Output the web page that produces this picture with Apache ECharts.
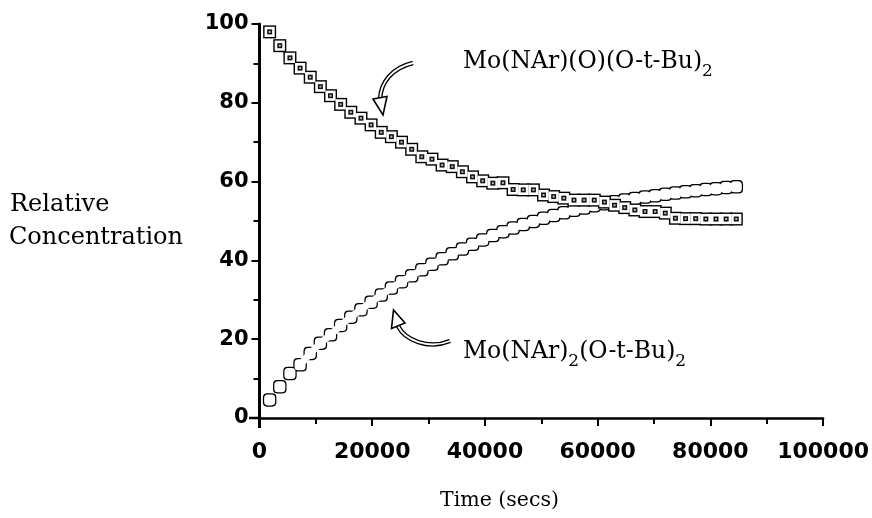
<!DOCTYPE html>
<html>
<head>
<meta charset="utf-8">
<script src="https://cdn.jsdelivr.net/npm/echarts@6/dist/echarts.min.js"></script>
<style>
  html, body { margin: 0; padding: 0; background: #fff; }
  #chart { width: 872px; height: 518px; }
</style>
</head>
<body>
<div id="chart"></div>
<script>
// Sampling times (s)
const times = [1800, 3600, 5400, 7200, 9000, 10800, 12600, 14400, 16200, 18000,
  19800, 21600, 23400, 25200, 27000, 28800, 30600, 32400, 34200, 36000,
  37800, 39600, 41400, 43200, 45000, 46800, 48600, 50400, 52200, 54000,
  55800, 57600, 59400, 61200, 63000, 64800, 66600, 68400, 70200, 72000,
  73800, 75600, 77400, 79200, 81000, 82800, 84600];

// Mo(NAr)(O)(O-t-Bu)2, relative concentration
const oxoImido = [98.0, 94.5, 91.4, 88.8, 86.5, 84.1, 81.8, 79.6, 77.6, 76.1,
  74.4, 72.5, 71.4, 70.0, 68.2, 66.3, 65.7, 64.2, 63.8, 62.5,
  61.2, 60.2, 59.6, 59.7, 58.0, 57.9, 57.9, 56.6, 56.2, 55.8,
  55.3, 55.3, 55.3, 54.8, 54.0, 53.4, 52.8, 52.4, 52.4, 52.0,
  50.7, 50.6, 50.6, 50.5, 50.5, 50.5, 50.5];

// Mo(NAr)2(O-t-Bu)2, relative concentration
const bisImido = [4.6, 7.9, 11.3, 13.5, 16.4, 19.0, 21.1, 23.5, 25.6, 27.5,
  29.4, 31.2, 33.0, 34.6, 36.1, 37.6, 39.0, 40.4, 41.7, 42.9,
  44.1, 45.2, 46.3, 47.3, 48.2, 49.1, 49.9, 50.7, 51.4, 52.1,
  52.7, 53.3, 53.9, 54.4, 54.9, 55.3, 55.7, 56.1, 56.4, 56.8,
  57.1, 57.4, 57.7, 58.0, 58.2, 58.5, 58.7];

// Axis tick labels
const xTicks = [0, 20000, 40000, 60000, 80000, 100000];
const yTicks = [0, 20, 40, 60, 80, 100];

const pairs = (ys) => times.map((t, i) => [t, ys[i]]);
const oxoData = pairs(oxoImido);
const bisData = pairs(bisImido);
// from the 4th sample on the open marks overlap into one continuous ribbon
const bisRibbon = bisData.slice(3);

const serif = '"DejaVu Serif", "Liberation Serif", serif';
const tickFont = '"DejaVu Sans", "Liberation Sans", sans-serif';

// strongly rounded square
const softSquare = 'path://M3.2,0 H6.8 Q10,0 10,3.2 V6.8 Q10,10 6.8,10 H3.2 Q0,10 0,6.8 V3.2 Q0,0 3.2,0 Z';

// one symbol layer; stacking a dark layer under a lighter one gives outlined marks
function layer(data, symbol, size, color, z) {
  return {
    type: 'scatter', data, symbol, symbolSize: size, z,
    itemStyle: { color, opacity: 1 },
    emphasis: { disabled: true },
    silent: true
  };
}

const labelRich = {
  m: { font: '23.5px ' + serif, fill: '#000', lineHeight: 36, verticalAlign: 'middle' },
  s: { font: '17px ' + serif, fill: '#000', lineHeight: 36, verticalAlign: 'bottom' }
};

const chart = echarts.init(document.getElementById('chart'), null, { renderer: 'canvas' });

chart.setOption({
  animation: false,
  backgroundColor: '#ffffff',
  grid: { left: 259.5, right: 47, top: 24, bottom: 100 },
  xAxis: {
    type: 'value',
    min: xTicks[0], max: xTicks[xTicks.length - 1], interval: xTicks[1] - xTicks[0],
    axisLine: { onZero: false, lineStyle: { color: '#000', width: 2.5 } },
    axisTick: { length: 8, lineStyle: { color: '#000', width: 2 } },
    minorTick: { show: true, splitNumber: 2, length: 6, lineStyle: { color: '#000', width: 2 } },
    splitLine: { show: false },
    axisLabel: {
      margin: 23, color: '#000', fontFamily: tickFont, fontWeight: 'bold', fontSize: 22,
      formatter: (v) => String(xTicks.find((t) => t === v) ?? v)
    }
  },
  yAxis: {
    type: 'value',
    min: yTicks[0], max: yTicks[yTicks.length - 1], interval: yTicks[1] - yTicks[0],
    axisLine: { onZero: false, lineStyle: { color: '#000', width: 3 } },
    axisTick: { length: 8, lineStyle: { color: '#000', width: 2 } },
    minorTick: { show: true, splitNumber: 2, length: 6, lineStyle: { color: '#000', width: 2 } },
    splitLine: { show: false },
    axisLabel: {
      margin: 11, color: '#000', fontFamily: tickFont, fontWeight: 'bold', fontSize: 21,
      formatter: (v) => String(yTicks.find((t) => t === v) ?? v)
    }
  },
  series: [
    // bis-imido: open rounded marks merging into a wavy ribbon
    layer(bisData, softSquare, 13.5, '#000', 2),
    {
      type: 'line', data: bisRibbon, z: 3, showSymbol: false, symbol: 'none',
      lineStyle: { color: '#fff', width: 7, opacity: 1 },
      silent: true, emphasis: { disabled: true }
    },
    layer(bisData, softSquare, 11, '#fff', 4),
    // oxo-imido: boxed squares with a dark centre
    layer(oxoData, 'rect', 13, '#000', 5),
    layer(oxoData, 'rect', 10.2, '#fff', 6),
    layer(oxoData, 'rect', 5, '#111', 7),
    layer(oxoData, 'rect', 2, '#bbb', 8)
  ],
  graphic: [
    { type: 'text', left: 10, top: 193, silent: true,
      style: { text: 'Relative', font: '24px ' + serif, fill: '#000' } },
    { type: 'text', left: 9, top: 226, silent: true,
      style: { text: 'Concentration', font: '24px ' + serif, fill: '#000' } },
    { type: 'text', left: 440, top: 490, silent: true,
      style: { text: 'Time (secs)', font: '20.5px ' + serif, fill: '#000' } },
    { type: 'text', left: 463, top: 50, silent: true,
      style: { text: '{m|Mo(NAr)(O)(O-t-Bu)}{s|2}', rich: labelRich } },
    { type: 'text', left: 463, top: 340, silent: true,
      style: { text: '{m|Mo(NAr)}{s|2}{m|(O-t-Bu)}{s|2}', rich: labelRich } },
    // curved pointer to the upper trace
    { type: 'bezierCurve', silent: true, z: 10,
      shape: { x1: 413, y1: 63, cpx1: 392, cpy1: 68, cpx2: 381, cpy2: 82, x2: 380, y2: 99 },
      style: { stroke: '#000', lineWidth: 4.5, fill: null } },
    { type: 'bezierCurve', silent: true, z: 11,
      shape: { x1: 413, y1: 63, cpx1: 392, cpy1: 68, cpx2: 381, cpy2: 82, x2: 380, y2: 99 },
      style: { stroke: '#fff', lineWidth: 1.8, fill: null } },
    { type: 'polygon', silent: true, z: 12,
      shape: { points: [[373, 99], [387, 96.5], [383, 115]] },
      style: { fill: '#fff', stroke: '#000', lineWidth: 1.6 } },
    // curved pointer to the lower trace
    { type: 'bezierCurve', silent: true, z: 10,
      shape: { x1: 450, y1: 341, cpx1: 428, cpy1: 350, cpx2: 405, cpy2: 340, x2: 398, y2: 326 },
      style: { stroke: '#000', lineWidth: 4.5, fill: null } },
    { type: 'bezierCurve', silent: true, z: 11,
      shape: { x1: 450, y1: 341, cpx1: 428, cpy1: 350, cpx2: 405, cpy2: 340, x2: 398, y2: 326 },
      style: { stroke: '#fff', lineWidth: 1.8, fill: null } },
    { type: 'polygon', silent: true, z: 12,
      shape: { points: [[391.5, 328.5], [405, 323], [393.5, 310]] },
      style: { fill: '#fff', stroke: '#000', lineWidth: 1.6 } },
    // axis lines run slightly past the origin
    { type: 'line', silent: true, z: 20,
      shape: { x1: 249, y1: 418, x2: 260, y2: 418 },
      style: { stroke: '#000', lineWidth: 2.5 } },
    { type: 'line', silent: true, z: 20,
      shape: { x1: 259.5, y1: 417, x2: 259.5, y2: 428 },
      style: { stroke: '#000', lineWidth: 3 } }
  ]
});
</script>
</body>
</html>
